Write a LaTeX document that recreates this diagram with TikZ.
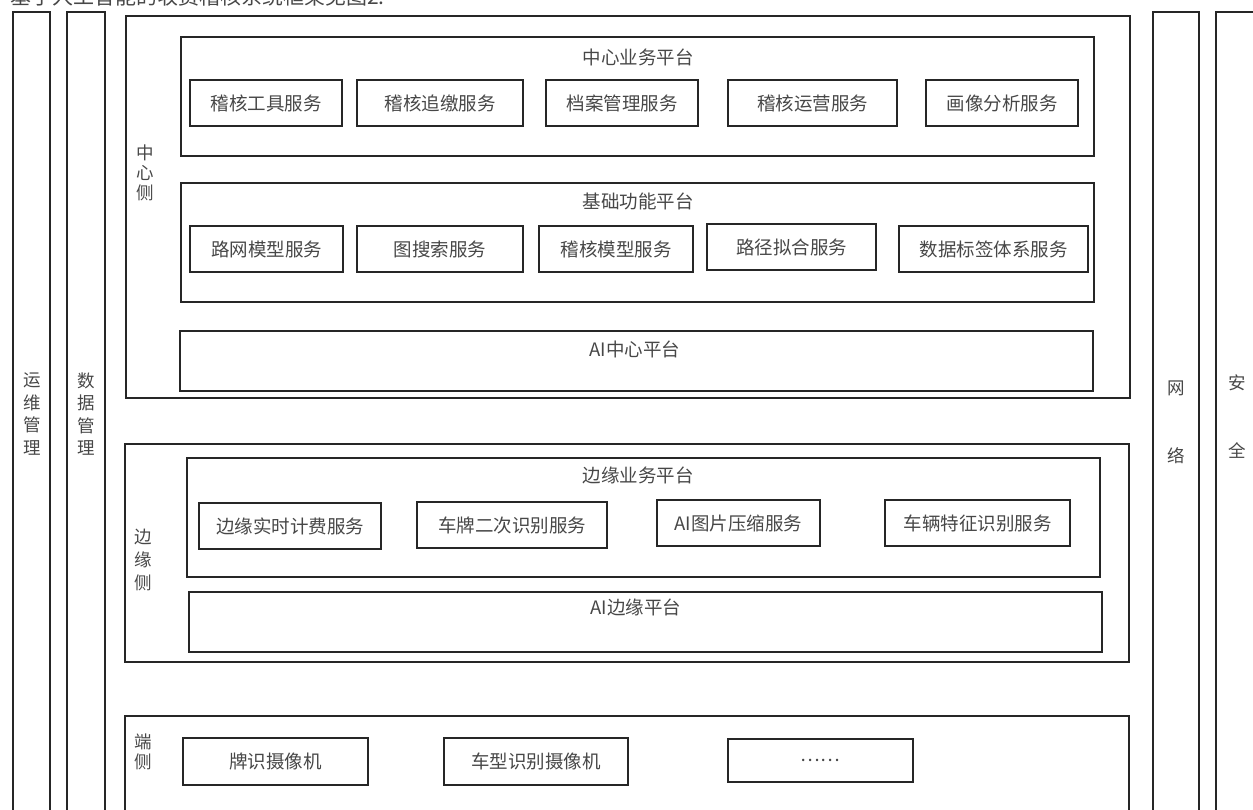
\documentclass[tikz,border=0pt]{standalone}
\usepackage{fontspec}
\newfontfamily\cjk{Noto Sans CJK SC}
\begin{document}
\begin{tikzpicture}[x=1pt,y=-1pt,
  line/.style={draw=black!85,line width=1.1pt},
  bx/.style={line,rectangle,inner sep=0pt,text=black!72,font=\cjk\fontsize{18.5}{21}\selectfont},
  lbl/.style={inner sep=0pt,text=black!72,font=\cjk\fontsize{18.5}{21}\selectfont},
  vlbl/.style={lbl,align=center}]
\newcommand\bx[6]{\node[bx,minimum width={(#4-#2)*1pt},minimum height={(#5-#3)*1pt}] (#1) at ({(#2+#4)/2},{(#3+#5)/2}) {#6};}
\useasboundingbox (0,0) rectangle (1253,810);
% caption at the top, cut off by the upper edge as in the reference
\node[lbl,anchor=base west,font=\cjk\fontsize{21}{24}\selectfont] (caption) at (10,5) {基于人工智能的收费稽核系统框架见图2.};
% side columns
\bx{ops}{13}{12}{50}{830}{}
\bx{data}{67}{12}{105}{830}{}
\bx{net}{1153}{12}{1199}{830}{}
\bx{sec}{1216}{12}{1270}{830}{}
\node[vlbl,font=\cjk\fontsize{17.5}{22.5}\selectfont] (opsT) at (32,414) {运\\维\\管\\理};
\node[vlbl,font=\cjk\fontsize{17.5}{22.5}\selectfont] (dataT) at (86,414) {数\\据\\管\\理};
\node[vlbl,font=\cjk\fontsize{17.5}{22}\selectfont] (netT) at (1176,422) {网\\[46pt]络};
\node[vlbl,font=\cjk\fontsize{17.5}{22}\selectfont] (secT) at (1237,417) {安\\[46pt]全};
% center side
\bx{center}{126}{16}{1130}{398}{}
\node[vlbl,font=\cjk\fontsize{17.5}{20}\selectfont] (centerT) at (145,173) {中\\心\\侧};
\bx{cbiz}{181}{37}{1094}{156}{}
\node[lbl] (cbizT) at (638,57) {中心业务平台};
\bx{c1}{190}{80}{342}{126}{稽核工具服务}
\bx{c2}{357}{80}{523}{126}{稽核追缴服务}
\bx{c3}{546}{80}{698}{126}{档案管理服务}
\bx{c4}{728}{80}{897}{126}{稽核运营服务}
\bx{c5}{926}{80}{1078}{126}{画像分析服务}
\bx{cbase}{181}{183}{1094}{302}{}
\node[lbl] (cbaseT) at (638,201) {基础功能平台};
\bx{b1}{190}{226}{343}{272}{路网模型服务}
\bx{b2}{357}{226}{523}{272}{图搜索服务}
\bx{b3}{539}{226}{693}{272}{稽核模型服务}
\bx{b4}{707}{224}{876}{270}{路径拟合服务}
\bx{b5}{899}{226}{1088}{272}{数据标签体系服务}
\bx{cai}{180}{331}{1093}{391}{}
\node[lbl] (caiT) at (635,349) {AI中心平台};
% edge side
\bx{edge}{125}{444}{1129}{662}{}
\node[vlbl,font=\cjk\fontsize{17.5}{23}\selectfont] (edgeT) at (143,560) {边\\缘\\侧};
\bx{ebiz}{187}{458}{1100}{577}{}
\node[lbl] (ebizT) at (638,475) {边缘业务平台};
\bx{e1}{199}{503}{381}{549}{边缘实时计费服务}
\bx{e2}{417}{502}{607}{548}{车牌二次识别服务}
\bx{e3}{657}{500}{820}{546}{AI图片压缩服务}
\bx{e4}{885}{500}{1070}{546}{车辆特征识别服务}
\bx{eai}{189}{592}{1102}{652}{}
\node[lbl] (eaiT) at (636,607) {AI边缘平台};
% terminal side
\bx{term}{125}{716}{1129}{830}{}
\node[vlbl,font=\cjk\fontsize{17.5}{20}\selectfont] (termT) at (143,752) {端\\侧};
\bx{t1}{183}{738}{368}{785}{牌识摄像机}
\bx{t2}{444}{738}{628}{785}{车型识别摄像机}
\bx{t3}{728}{739}{913}{782}{……}
\end{tikzpicture}
\end{document}
